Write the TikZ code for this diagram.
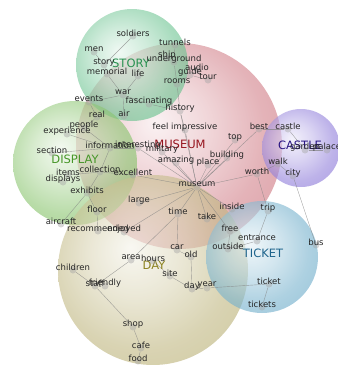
\documentclass[tikz,border=0pt]{standalone}
\usepackage{fontspec}
\setmainfont{DejaVu Sans}
\usetikzlibrary{backgrounds}

%Colors
\definecolor{storycol}{RGB}{95,190,135}
\definecolor{museumcol}{RGB}{205,115,125}
\definecolor{displaycol}{RGB}{125,190,95}
\definecolor{castlecol}{RGB}{135,115,215}
\definecolor{ticketcol}{RGB}{105,170,200}
\definecolor{daycol}{RGB}{185,175,115}
\definecolor{storytxt}{RGB}{40,145,80}
\definecolor{museumtxt}{RGB}{150,20,30}
\definecolor{displaytxt}{RGB}{70,150,40}
\definecolor{castletxt}{RGB}{40,20,130}
\definecolor{tickettxt}{RGB}{30,100,140}
\definecolor{daytxt}{RGB}{140,130,30}
\colorlet{bubble}{gray}
\pgfdeclareradialshading[bubble]{bubbleshade}{\pgfpoint{-6bp}{6bp}}{%
  color(0bp)=(bubble!15!white); color(12bp)=(bubble!48!white);
  color(24bp)=(bubble!88!white); color(31bp)=(bubble); color(50bp)=(bubble)}

\begin{document}
\begin{tikzpicture}
		[x=1pt,y=-1pt,
		%Styles
		bubble/.style={shading=bubbleshade,fill opacity=0.62,/utils/exec={\colorlet{bubble}{#1}}},
		cat/.style={font=\fontsize{11.5}{12}\selectfont,inner sep=0pt},
		dot/.style={circle,fill=gray!70,fill opacity=0.45,minimum size=7pt,inner sep=0pt},
		word/.style={font=\fontsize{8.5}{9}\selectfont,text=black!85,inner sep=0pt},
		link/.style={draw=gray,line width=0.4pt,opacity=0.7}
		]
		\useasboundingbox (0,0) rectangle (338,365);
		
		%The bubbles
		\begin{scope}[on background layer]
		\shade[bubble=museumcol] (179,146) circle[radius=103];
		\shade[bubble=storycol] (132,65) circle[radius=56];
		\shade[bubble=displaycol] (75,163) circle[radius=62];
		\shade[bubble=castlecol] (301,148) circle[radius=39];
		\shade[bubble=daycol] (153,270) circle[radius=95];
		\shade[bubble=ticketcol] (262,257) circle[radius=56];
		\end{scope}
		
		\node[cat,text=storytxt] (catstory) at (131,63) {STORY};
		\node[cat,text=museumtxt] (catmuseum) at (180,144) {MUSEUM};
		\node[cat,text=displaytxt] (catdisplay) at (75,159) {DISPLAY};
		\node[cat,text=castletxt] (catcastle) at (300,145) {CASTLE};
		\node[cat,text=tickettxt] (catticket) at (263,253) {TICKET};
		\node[cat,text=daytxt] (catday) at (154,265) {DAY};
		
		%The words
		\foreach \n/\x/\y/\t in {
			soldiers/133/36/soldiers, men/94/52/men, story/104/65/story,
			memorial/107/74/memorial, life/138/76/life, war/123/95/war,
			events/89/102/events, fascinating/149/104/fascinating, air/124/116/air,
			real/97/117/real, people/84/128/people, tunnels/175/45/tunnels,
			ship/167/58/ship, underground/174/62/underground, audio/197/70/audio,
			guide/190/75/guide, tour/208/80/tour, rooms/177/84/rooms,
			history/180/111/history, feelimp/185/130/feel impressive,
			top/235/140/top, best/259/129/best, castle/288/129/castle,
			garden/305/150/garden, palace/327/150/palace, building/227/158/building,
			amazing/176/163/amazing, place/208/165/place, walk/278/164/walk,
			worth/257/174/worth, city/293/176/city, museum/197/187/museum,
			experience/67/134/experience, section/52/153/section,
			information/110/148/information, interesting/138/148/interesting,
			military/162/152/military, items/68/175/items, collection/100/172/collection,
			excellent/133/175/excellent, displays/63/182/displays, exhibits/87/193/exhibits,
			large/139/203/large, floor/97/212/floor, aircraft/61/224/aircraft,
			recommended/98/231/recommended, enjoyed/124/232/enjoyed,
			time/178/214/time, take/207/219/take, inside/232/209/inside,
			trip/268/211/trip, free/230/231/free, entrance/257/241/entrance,
			outside/228/249/outside, bus/316/245/bus, car/177/250/car,
			old/191/257/old, area/131/260/area, hours/153/261/hours,
			site/170/276/site, day/192/289/day, year/207/288/year,
			ticket/269/284/ticket, tickets/262/307/tickets, children/73/270/children,
			staff/95/286/staff, friendly/105/286/friendly, shop/133/327/shop,
			cafe/141/348/cafe, food/138/361/food}
		{
			\node[dot] (\n) at (\x,\y) {};
			\node[word] (\n-w) at (\x,\y-3) {\t};
		}
		
		%The links
		\begin{scope}[on background layer]
		\path[link]
			(museum)	edge (history) edge (feelimp) edge (amazing) edge (place)
				edge (building) edge (top) edge (best) edge (worth)
				edge (military) edge (interesting) edge (excellent) edge (large)
				edge (enjoyed) edge (time) edge (take) edge (inside) edge (free)
			(history)	edge (fascinating) edge (rooms) edge (feelimp)
			(rooms)	edge (underground) edge (guide)
			(underground)	edge (ship) edge (tunnels)
			(guide)	edge (audio) edge (tour)
			(story)	edge (soldiers) edge (men) edge (memorial)
			(memorial)	edge (war)
			(war)	edge (life) edge (events) edge (fascinating) edge (air)
			(events)	edge (real)
			(real)	edge (people)
			(information)	edge (people) edge (experience) edge (section)
				edge (collection) edge (interesting)
			(collection)	edge (items) edge (excellent) edge (exhibits)
			(items)	edge (displays)
			(exhibits)	edge (floor) edge (aircraft)
			(floor)	edge (recommended)
			(best)	edge (castle)
			(castle)	edge (garden)
			(garden)	edge (palace)
			(worth)	edge (walk) edge (trip)
			(walk)	edge (city)
			(city)	edge (bus)
			(free)	edge (outside)
			(outside)	edge (entrance)
			(trip)	edge (entrance)
			(year)	edge (ticket)
			(ticket)	edge (tickets)
			(time)	edge (area) edge (car)
			(area)	edge (staff)
			(staff)	edge (friendly) edge (shop) edge (children)
			(shop)	edge (cafe)
			(cafe)	edge (food)
			(car)	edge (old)
			(old)	edge (day)
			(hours)	edge (site)
			(site)	edge (day)
			(day)	edge (year);
		\end{scope}
	\end{tikzpicture}
\end{document}
